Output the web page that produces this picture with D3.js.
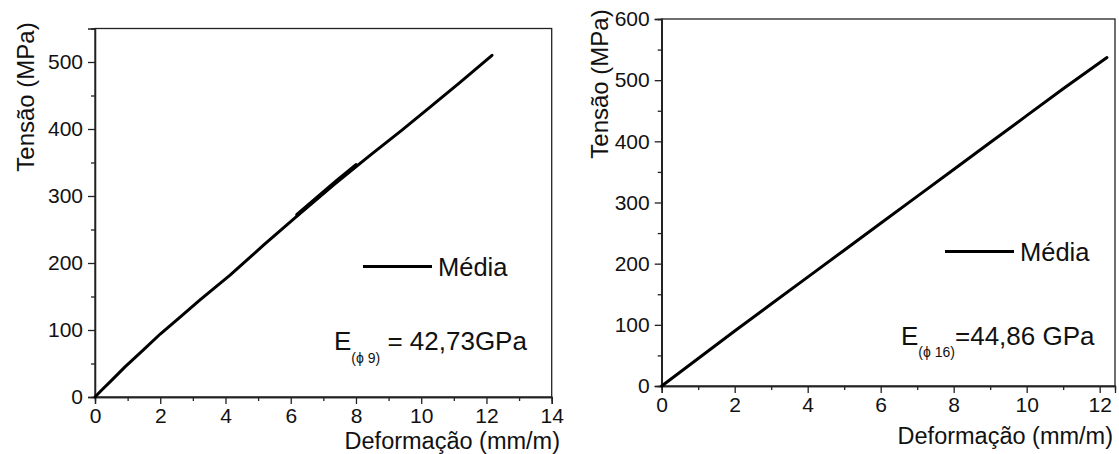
<!DOCTYPE html>
<html><head><meta charset="utf-8">
<script src="https://cdn.jsdelivr.net/npm/d3@7/dist/d3.min.js"></script>
<style>body{margin:0;background:#fff}svg{display:block}text{font-family:"Liberation Sans",Arial,sans-serif;fill:#111}</style>
</head><body><svg id="c" width="1119" height="454"></svg>
<script>
// Left panel (phi 9)
const leftStrain = [0, 0.2, 0.5, 0.92, 1.5, 2.0, 2.6, 3.22, 4.14, 5.2, 6.29, 7.3, 8.44, 9.4, 10.28, 11.2, 12.17];
const leftStress = [0, 10, 24.5, 45, 71, 94, 119, 145, 182, 228, 274, 316, 361, 398, 433, 470, 510];
// overlapping test segment (thicker zone)
const leftOverlapStrain = [6.2, 6.8, 7.4, 8.0];
const leftOverlapStress = [272, 297, 322, 346];
// Right panel (phi 16)
const rightStrain = [0, 1, 2, 3, 4, 5, 6, 7, 8, 9, 10, 11, 12.2];
const rightStress = [0, 45, 90, 134, 178, 222, 266, 310, 354, 398, 442, 486, 537];

const xTicksLeft = [0, 2, 4, 6, 8, 10, 12, 14];
const yTicksLeft = [0, 100, 200, 300, 400, 500];
const xTicksRight = [0, 2, 4, 6, 8, 10, 12];
const yTicksRight = [0, 100, 200, 300, 400, 500, 600];

const legendLabel = "Média";
const yTitle = "Tensão (MPa)";
const xTitle = "Deformação (mm/m)";

const svg = d3.select("#c");
const axisColor = "#222";
const FF = '"Liberation Sans",Arial,sans-serif';

function panel(cfg) {
  const g = svg.append("g");
  const x = d3.scaleLinear().domain(cfg.xDomain).range([cfg.left, cfg.right]);
  const y = d3.scaleLinear().domain(cfg.yDomain).range([cfg.bottom, cfg.top]);

  g.append("rect").attr("x", cfg.left).attr("y", cfg.top)
    .attr("width", cfg.right - cfg.left).attr("height", cfg.bottom - cfg.top)
    .attr("fill", "none").attr("stroke", axisColor).attr("stroke-width", 1.3);

  const xMinor = d3.range(cfg.xDomain[0], cfg.xDomain[1] + 0.001, 1).filter(v => !cfg.xTicks.includes(v));
  const xa = g.append("g").attr("transform", `translate(0,${cfg.bottom})`)
    .call(d3.axisBottom(x).tickValues(cfg.xTicks).tickSize(7).tickPadding(4).tickFormat(d3.format("d")));
  const xm = g.append("g").attr("transform", `translate(0,${cfg.bottom})`)
    .call(d3.axisBottom(x).tickValues(xMinor).tickSize(4).tickFormat(""));
  const yMinor = d3.range(50, cfg.yDomain[1], 100).filter(v => !cfg.yTicks.includes(v));
  const ya = g.append("g").attr("transform", `translate(${cfg.left},0)`)
    .call(d3.axisLeft(y).tickValues(cfg.yTicks).tickSize(7).tickPadding(5).tickFormat(d3.format("d")));
  const ym = g.append("g").attr("transform", `translate(${cfg.left},0)`)
    .call(d3.axisLeft(y).tickValues(yMinor).tickSize(4).tickFormat(""));
  [xa, xm, ya, ym].forEach(a => {
    a.attr("font-family", FF);
    a.select(".domain").attr("stroke", axisColor).attr("stroke-width", 1.3);
    a.selectAll(".tick line").attr("stroke", axisColor).attr("stroke-width", 1.3);
    a.selectAll("text").attr("font-size", 21).attr("fill", "#111");
  });

  const line = d3.line().x(d => x(d[0])).y(d => y(d[1]));
  cfg.series.forEach(s => {
    g.append("path").datum(d3.zip(s.x, s.y)).attr("d", line)
      .attr("fill", "none").attr("stroke", "#000").attr("stroke-width", s.w || 3)
      .attr("stroke-linejoin", "round").attr("stroke-linecap", "round");
  });

  g.append("text").attr("transform", `translate(${cfg.yTitleX},${cfg.yTitleY}) rotate(-90)`)
    .attr("text-anchor", "middle").attr("font-size", 24).text(yTitle);
  g.append("text").attr("x", cfg.xTitleX).attr("y", cfg.xTitleY)
    .attr("text-anchor", "end").attr("font-size", 23.5).text(xTitle);

  g.append("line").attr("x1", cfg.legX).attr("x2", cfg.legX + 69)
    .attr("y1", cfg.legY).attr("y2", cfg.legY).attr("stroke", "#000").attr("stroke-width", 3);
  g.append("text").attr("x", cfg.legX + 75).attr("y", cfg.legY + 9)
    .attr("font-size", 25.5).text(legendLabel);

  const t = g.append("text").attr("x", cfg.eX).attr("y", cfg.eY).attr("font-size", 26);
  t.append("tspan").text("E");
  t.append("tspan").attr("font-size", 14).attr("dy", cfg.subDy).text(cfg.sub);
  t.append("tspan").attr("dy", -cfg.subDy).text(cfg.eText);
}

panel({
  left: 95, right: 551.7, top: 28.5, bottom: 397,
  xDomain: [0, 14], yDomain: [0, 550],
  xTicks: xTicksLeft, yTicks: yTicksLeft,
  series: [{x: leftStrain, y: leftStress}, {x: leftOverlapStrain, y: leftOverlapStress, w: 4}],
  yTitleX: 34, yTitleY: 97, xTitleX: 560, xTitleY: 449,
  legX: 363, legY: 266.5,
  eX: 334, eY: 350, sub: "(\u03D5 9)", subDy: 13, eText: " = 42,73GPa"
});

panel({
  left: 661.7, right: 1115, top: 19, bottom: 386,
  xDomain: [0, 12.42], yDomain: [0, 600],
  xTicks: xTicksRight, yTicks: yTicksRight,
  series: [{x: rightStrain, y: rightStress}],
  yTitleX: 608, yTitleY: 84, xTitleX: 1113, xTitleY: 444,
  legX: 945, legY: 251.5,
  eX: 901, eY: 345, sub: "(\u03D5 16)", subDy: 12, eText: "=44,86 GPa"
});
</script></body></html>
